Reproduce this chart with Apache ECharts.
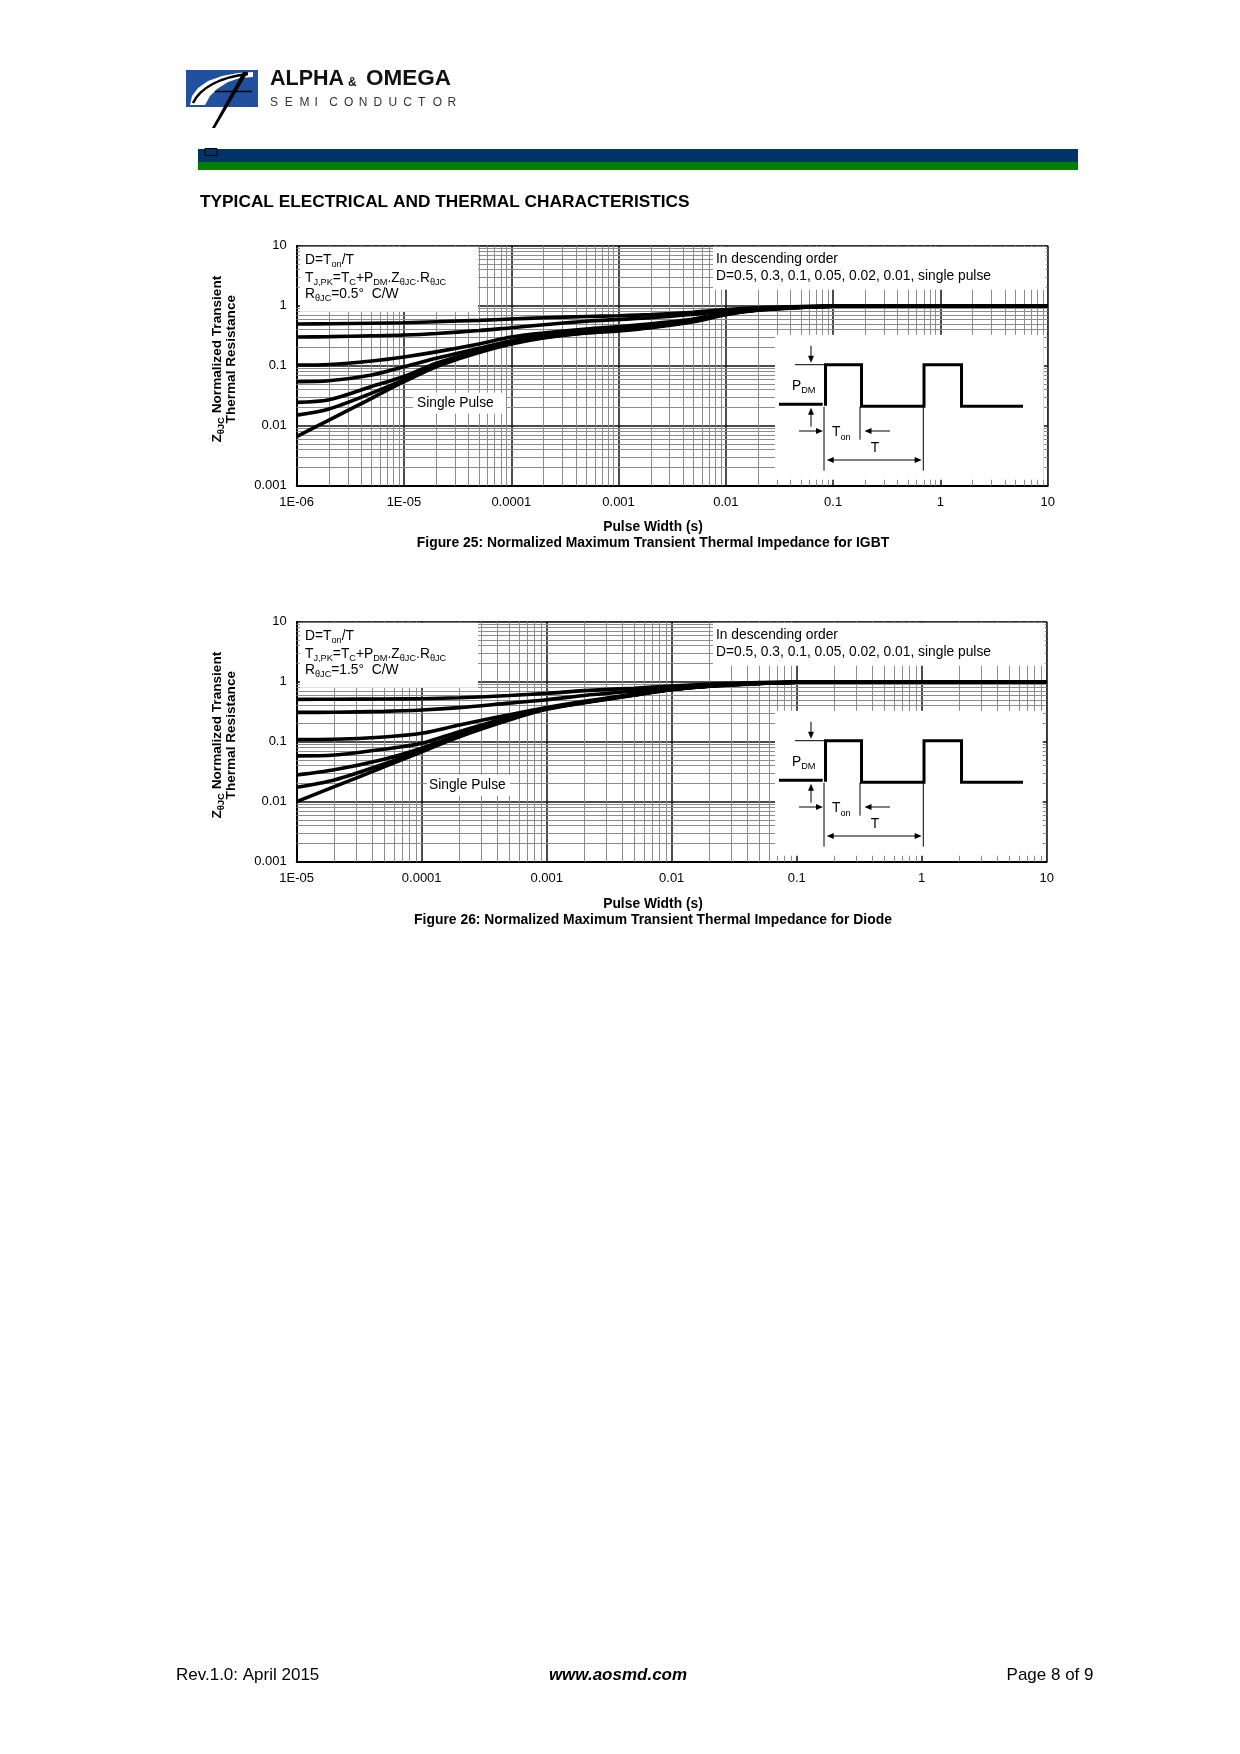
<!DOCTYPE html>
<html><head><meta charset="utf-8">
<script src="https://cdn.jsdelivr.net/npm/echarts@6/dist/echarts.min.js"></script>
<style>html,body{margin:0;padding:0;background:#fff}#c{width:1240px;height:1754px}</style>
</head><body><div id="c"></div>
<script>
// ---------- Data: Figure 25 (IGBT) ----------
const igbtT      = [1e-6, 2e-6, 5e-6, 1e-5, 2e-5, 5e-5, 1e-4, 2e-4, 5e-4, 1e-3, 2e-3, 5e-3, 1e-2, 2e-2, 5e-2, 1e-1, 1, 10];
const igbtD050   = [0.495, 0.50, 0.51, 0.52, 0.54, 0.57, 0.60, 0.63, 0.66, 0.68, 0.71, 0.78, 0.86, 0.92, 0.97, 0.99, 1.0, 1.0];
const igbtD030   = [0.30, 0.305, 0.315, 0.325, 0.345, 0.385, 0.43, 0.48, 0.55, 0.59, 0.63, 0.72, 0.82, 0.90, 0.96, 0.99, 1.0, 1.0];
const igbtD010   = [0.103, 0.105, 0.12, 0.14, 0.17, 0.23, 0.30, 0.35, 0.41, 0.45, 0.50, 0.60, 0.76, 0.87, 0.95, 0.98, 1.0, 1.0];
const igbtD005   = [0.054, 0.056, 0.07, 0.096, 0.133, 0.195, 0.26, 0.32, 0.38, 0.42, 0.47, 0.58, 0.74, 0.86, 0.94, 0.98, 1.0, 1.0];
const igbtD002   = [0.0245, 0.027, 0.045, 0.066, 0.11, 0.178, 0.242, 0.30, 0.36, 0.40, 0.45, 0.56, 0.73, 0.85, 0.94, 0.98, 1.0, 1.0];
const igbtD001   = [0.015, 0.019, 0.035, 0.058, 0.103, 0.17, 0.236, 0.295, 0.355, 0.39, 0.44, 0.55, 0.72, 0.85, 0.94, 0.98, 1.0, 1.0];
const igbtSingle = [0.0066, 0.0124, 0.0286, 0.054, 0.096, 0.165, 0.23, 0.29, 0.35, 0.38, 0.43, 0.54, 0.71, 0.84, 0.93, 0.98, 1.0, 1.0];
const igbtXLabels = ['1E-06', '1E-05', '0.0001', '0.001', '0.01', '0.1', '1', '10'];

// ---------- Data: Figure 26 (Diode) ----------
const diodeT      = [1e-5, 2e-5, 5e-5, 1e-4, 2e-4, 5e-4, 1e-3, 2e-3, 5e-3, 1e-2, 2e-2, 5e-2, 1e-1, 1, 10];
const diodeD050   = [0.508, 0.51, 0.515, 0.52, 0.54, 0.59, 0.64, 0.71, 0.78, 0.85, 0.91, 0.97, 0.99, 1.0, 1.0];
const diodeD030   = [0.308, 0.31, 0.32, 0.337, 0.37, 0.44, 0.50, 0.59, 0.70, 0.80, 0.88, 0.95, 0.99, 1.0, 1.0];
const diodeD010   = [0.109, 0.11, 0.12, 0.138, 0.19, 0.28, 0.37, 0.47, 0.62, 0.75, 0.85, 0.94, 0.98, 1.0, 1.0];
const diodeD005   = [0.058, 0.06, 0.075, 0.094, 0.147, 0.255, 0.36, 0.46, 0.61, 0.745, 0.85, 0.94, 0.98, 1.0, 1.0];
const diodeD002   = [0.0279, 0.034, 0.051, 0.078, 0.13, 0.245, 0.356, 0.455, 0.605, 0.74, 0.845, 0.935, 0.98, 1.0, 1.0];
const diodeD001   = [0.0174, 0.023, 0.0425, 0.073, 0.125, 0.239, 0.354, 0.45, 0.60, 0.74, 0.845, 0.935, 0.98, 1.0, 1.0];
const diodeSingle = [0.010, 0.0178, 0.038, 0.068, 0.121, 0.23, 0.346, 0.445, 0.595, 0.735, 0.84, 0.93, 0.98, 1.0, 1.0];
const diodeXLabels = ['1E-05', '0.0001', '0.001', '0.01', '0.1', '1', '10'];

const yLabels = ['0.001', '0.01', '0.1', '1', '10'];

// ---------- Layout ----------
const FONT = '"Liberation Sans", Arial, Helvetica, sans-serif';
const G1 = {left: 296.7, top: 245.7, width: 751, height: 240};
const G2 = {left: 296.7, top: 621.7, width: 750, height: 240};

function txt(x, y, text, o) {
  o = o || {};
  const st = {
    text: text, fill: o.color || '#000',
    fontSize: o.size || 13.8, fontWeight: o.weight || 'normal', fontStyle: o.fstyle || 'normal',
    fontFamily: FONT,
    align: o.align || 'left', verticalAlign: o.va || 'middle',
    textAlign: o.align || 'left', textVerticalAlign: o.va || 'middle'
  };
  if (o.rich) {
    st.lineHeight = o.lh || 19;
    st.rich = o.rich;
  }
  return {type: 'text', x: x, y: y, rotation: o.rotation || 0, z: 10, silent: true, style: st};
}
function subRich(sub, weight) {
  return {s: {fontSize: sub, fontFamily: FONT, fontWeight: weight || 'normal', verticalAlign: 'bottom', lineHeight: 19}};
}
function rect(x, y, w, h, fill, z) {
  return {type: 'rect', silent: true, z: z == null ? 2 : z, shape: {x: x, y: y, width: w, height: h}, style: {fill: fill, stroke: null}};
}
function seg(x1, y1, x2, y2, w, z) {
  return {type: 'line', silent: true, z: z || 6, shape: {x1: x1, y1: y1, x2: x2, y2: y2}, style: {stroke: '#000', lineWidth: w || 1}};
}
function head(x, y, dx, dy) {
  const L = 7, W = 3;
  const bx = x - dx * L, by = y - dy * L;
  const px = -dy * W, py = dx * W;
  return {type: 'polygon', silent: true, z: 6, shape: {points: [[x, y], [bx + px, by + py], [bx - px, by - py]]}, style: {fill: '#000'}};
}
function arrow(x1, y1, x2, y2) {
  const len = Math.hypot(x2 - x1, y2 - y1), dx = (x2 - x1) / len, dy = (y2 - y1) / len;
  return [seg(x1, y1, x2 - dx * 5, y2 - dy * 5, 1), head(x2, y2, dx, dy)];
}

function chartDecor(G, cfg) {
  const T = G.top, R = G.left + G.width, B = G.top + G.height;
  const el = [];
  const rich = subRich(9.2);
  el.push(rect(300, T + 1, 178, 65, '#fff'));
  el.push(rect(713, T + 1, R - 2 - 713, 43, '#fff'));
  el.push(rect(cfg.spBox[0], T + cfg.spBox[1], cfg.spBox[2], cfg.spBox[3], '#fff'));
  el.push(rect(775, T + 89, R - 4 - 775, 145, '#fff'));
  el.push(txt(305, T + 14, 'D=T{s|on}/T', {rich: rich}));
  el.push(txt(305, T + 32, 'T{s|J,PK}=T{s|C}+P{s|DM}.Z{s|θJC}.R{s|θJC}', {rich: rich}));
  el.push(txt(305, T + 48, 'R{s|θJC}=' + cfg.rth + '°  C/W', {rich: rich}));
  el.push(txt(716, T + 13.5, 'In descending order'));
  el.push(txt(716, T + 30, 'D=0.5, 0.3, 0.1, 0.05, 0.02, 0.01, single pulse'));
  el.push(txt(cfg.spText[0], T + cfg.spText[1], 'Single Pulse'));
  el.push(seg(779, T + 158.5, 822.7, T + 158.5, 3));
  el.push({type: 'polyline', silent: true, z: 6, shape: {points: [
    [825.5, T + 160], [825.5, T + 119], [861.5, T + 119], [861.5, T + 160.5], [924, T + 160.5],
    [924, T + 119], [961.5, T + 119], [961.5, T + 160.5], [1023, T + 160.5]]},
    style: {stroke: '#000', lineWidth: 3, fill: null, lineJoin: 'miter'}});
  el.push(seg(795, T + 119, 825, T + 119, 1));
  el.push.apply(el, arrow(811, T + 100, 811, T + 117));
  el.push.apply(el, arrow(811, T + 181, 811, T + 162));
  el.push(txt(792, T + 140, 'P{s|DM}', {rich: rich}));
  el.push(seg(824, T + 161, 824, T + 225, 1));
  el.push(seg(860, T + 161, 860, T + 194, 1));
  el.push(seg(923.3, T + 161, 923.3, T + 225, 1));
  el.push.apply(el, arrow(799, T + 185.3, 823, T + 185.3));
  el.push.apply(el, arrow(890, T + 185.3, 864.5, T + 185.3));
  el.push(txt(832, T + 186.3, 'T{s|on}', {rich: rich}));
  el.push(txt(875, T + 202, 'T', {align: 'center'}));
  el.push.apply(el, arrow(874, T + 214.3, 826.7, T + 214.3));
  el.push.apply(el, arrow(874, T + 214.3, 921.7, T + 214.3));
  const ny = T + 113.5;
  el.push(txt(217, ny, 'Z{s|θJC} Normalized Transient', {size: 13.6, weight: 'bold', align: 'center', rotation: Math.PI / 2,
    rich: subRich(9.5, 'bold')}));
  el.push(txt(231, ny, 'Thermal Resistance', {size: 13.6, weight: 'bold', align: 'center', rotation: Math.PI / 2}));
  el.push(txt(653, B + cfg.titleDy, 'Pulse Width (s)', {size: 13.8, weight: 'bold', align: 'center'}));
  el.push(txt(653, B + cfg.capDy, cfg.caption, {size: 13.9, weight: 'bold', align: 'center'}));
  return el;
}

function pageDecor() {
  const el = [];
  el.push(rect(186, 70, 72, 37, '#21509e', 5));
  el.push({type: 'polygon', silent: true, z: 6, shape: {points: [
    [190, 105], [192, 96], [198, 88], [208, 81], [222, 76], [238, 73], [253, 72], [253, 77],
    [240, 78], [228, 82], [217, 89], [210, 96], [205, 105]]}, style: {fill: '#fff'}});
  el.push({type: 'bezierCurve', silent: true, z: 7, shape: {x1: 193, y1: 103, cpx1: 200, cpy1: 88, cpx2: 220, cpy2: 77, x2: 248, y2: 74},
    style: {stroke: '#000', lineWidth: 2.5, fill: null}});
  el.push({type: 'polygon', silent: true, z: 7, shape: {points: [[243, 72], [248, 72], [215, 128], [212, 128]]}, style: {fill: '#000'}});
  el.push(seg(215, 91.5, 252, 91.5, 1.5, 7));
  el.push(txt(270, 79, 'ALPHA', {size: 21.5, weight: 'bold', color: '#111'}));
  el.push(txt(348, 83, '&', {size: 12, weight: 'bold', color: '#111'}));
  el.push(txt(366, 79, 'OMEGA', {size: 22.5, weight: 'bold', color: '#111'}));
  'SEMICONDUCTOR'.split('').forEach(function (ch, i) {
    el.push(txt(270 + i * 14.8, 102.5, ch, {size: 12, color: '#333'}));
  });
  el.push(rect(198, 149, 880, 13, '#003366', 5));
  el.push(rect(198, 162, 880, 8, '#008000', 5));
  el.push({type: 'rect', silent: true, z: 6, shape: {x: 205, y: 148.5, width: 12, height: 7}, style: {fill: null, stroke: '#000', lineWidth: 1}});
  el.push(txt(200, 202, 'TYPICAL ELECTRICAL AND THERMAL CHARACTERISTICS', {size: 17.3, weight: 'bold'}));
  el.push(txt(176, 1675, 'Rev.1.0: April 2015', {size: 17}));
  el.push(txt(618, 1675, 'www.aosmd.com', {size: 17, weight: 'bold', fstyle: 'italic', align: 'center'}));
  el.push(txt(1093.5, 1675, 'Page 8 of 9', {size: 17, align: 'right'}));
  return el;
}

function minorGrid(idx, xmin, xmax, ymin, ymax) {
  const data = [];
  for (let e = Math.round(Math.log10(xmin)); e < Math.round(Math.log10(xmax)); e++) {
    for (let m = 2; m <= 9; m++) { const x = m * Math.pow(10, e); data.push({coords: [[x, ymin], [x, ymax]]}); }
  }
  for (let e = Math.round(Math.log10(ymin)); e < Math.round(Math.log10(ymax)); e++) {
    for (let m = 2; m <= 9; m++) { const y = m * Math.pow(10, e); data.push({coords: [[xmin, y], [xmax, y]]}); }
  }
  return {type: 'lines', coordinateSystem: 'cartesian2d', xAxisIndex: idx, yAxisIndex: idx, z: 1, silent: true,
    polyline: false, effect: {show: false}, symbol: ['none', 'none'],
    lineStyle: {color: '#8c8c8c', width: 1, opacity: 1, curveness: 0}, data: data, animation: false};
}

function curve(idx, ts, vals) {
  return {type: 'line', xAxisIndex: idx, yAxisIndex: idx, z: 3, showSymbol: false, symbol: 'none', silent: true,
    smooth: 0.3, animation: false,
    lineStyle: {color: '#000', width: 3.6}, data: ts.map(function (t, i) { return [t, vals[i]]; })};
}

function xAxis(idx, min, labels) {
  const off = Math.round(Math.log10(min));
  return {type: 'log', logBase: 10, gridIndex: idx, min: min, max: 10, interval: 1,
    axisLine: {show: true, onZero: false, lineStyle: {color: '#000', width: 2}},
    axisTick: {show: false}, minorTick: {show: false},
    splitLine: {show: true, lineStyle: {color: '#111', width: 1.5}},
    axisLabel: {color: '#000', fontSize: 13, fontFamily: FONT, margin: 10,
      formatter: function (v) { return labels[Math.round(Math.log10(v)) - off] || ''; }}};
}
function yAxis(idx) {
  return {type: 'log', logBase: 10, gridIndex: idx, min: 0.001, max: 10, interval: 1,
    axisLine: {show: true, onZero: false, lineStyle: {color: '#000', width: 2}},
    axisTick: {show: false}, minorTick: {show: false},
    splitLine: {show: true, lineStyle: {color: '#111', width: 1.5}},
    axisLabel: {color: '#000', fontSize: 13, fontFamily: FONT, margin: 10,
      formatter: function (v) { return yLabels[Math.round(Math.log10(v)) + 3] || ''; }}};
}

const chart = echarts.init(document.getElementById('c'), null, {renderer: 'canvas'});
const graphics = pageDecor()
  .concat(chartDecor(G1, {rth: '0.5', spBox: [413, 147, 93, 21], spText: [417, 157], titleDy: 41.5, capDy: 57,
    caption: 'Figure 25: Normalized Maximum Transient Thermal Impedance for IGBT'}))
  .concat(chartDecor(G2, {rth: '1.5', spBox: [427, 153, 83, 21], spText: [429, 163], titleDy: 42.5, capDy: 58.5,
    caption: 'Figure 26: Normalized Maximum Transient Thermal Impedance for Diode'}));

chart.setOption({
  animation: false,
  backgroundColor: '#fff',
  grid: [
    Object.assign({show: true, borderColor: '#777', borderWidth: 1, backgroundColor: 'transparent', containLabel: false}, G1),
    Object.assign({show: true, borderColor: '#777', borderWidth: 1, backgroundColor: 'transparent', containLabel: false}, G2)
  ],
  xAxis: [xAxis(0, 1e-6, igbtXLabels), xAxis(1, 1e-5, diodeXLabels)],
  yAxis: [yAxis(0), yAxis(1)],
  series: [
    minorGrid(0, 1e-6, 10, 0.001, 10),
    curve(0, igbtT, igbtD050), curve(0, igbtT, igbtD030), curve(0, igbtT, igbtD010),
    curve(0, igbtT, igbtD005), curve(0, igbtT, igbtD002), curve(0, igbtT, igbtD001), curve(0, igbtT, igbtSingle),
    minorGrid(1, 1e-5, 10, 0.001, 10),
    curve(1, diodeT, diodeD050), curve(1, diodeT, diodeD030), curve(1, diodeT, diodeD010),
    curve(1, diodeT, diodeD005), curve(1, diodeT, diodeD002), curve(1, diodeT, diodeD001), curve(1, diodeT, diodeSingle)
  ],
  graphic: {elements: graphics}
});
</script></body></html>
